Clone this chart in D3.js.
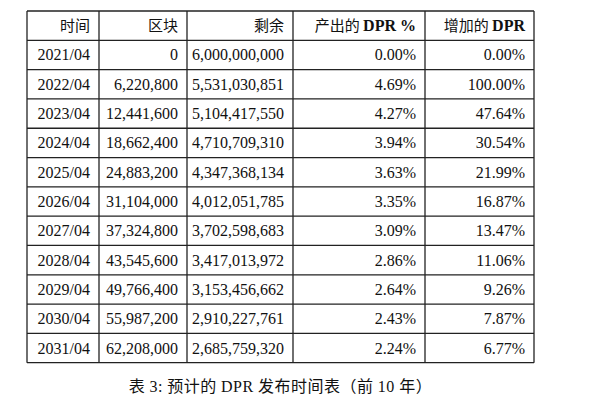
<!DOCTYPE html>
<html>
  <head>
    <meta charset="utf-8">
    <script src="https://d3js.org/d3.v7.min.js"></script>
    <style>
      body { margin: 0; background: #fff; }
      text { font-family: "Liberation Serif", "DejaVu Serif", serif; font-size: 16px; fill: #111; }
      .cjk { font-family: "Noto Sans CJK SC", sans-serif; font-size: 15px; }
      .cap { font-family: "Noto Sans CJK SC", sans-serif; font-size: 16px; }
      .bold { font-weight: bold; }
    </style>
  </head>
  <body>
    <svg width="601" height="406"></svg>
    <script>
      // table data
      var times = ["2021/04", "2022/04", "2023/04", "2024/04", "2025/04", "2026/04",
                   "2027/04", "2028/04", "2029/04", "2030/04", "2031/04"];
      var blocks = [0, 6220800, 12441600, 18662400, 24883200, 31104000,
                    37324800, 43545600, 49766400, 55987200, 62208000];
      var remaining = [6000000000, 5531030851, 5104417550, 4710709310, 4347368134, 4012051785,
                       3702598683, 3417013972, 3153456662, 2910227761, 2685759320];
      var producedPct = [0.00, 4.69, 4.27, 3.94, 3.63, 3.35, 3.09, 2.86, 2.64, 2.43, 2.24];
      var addedPct = [0.00, 100.00, 47.64, 30.54, 21.99, 16.87, 13.47, 11.06, 9.26, 7.87, 6.77];
      // caption pieces: Chinese vs latin runs
      var caption = [["表 ", "cap"], ["3: ", "lat"], ["预计的 ", "cap"], ["DPR ", "lat"],
                     ["发布时间表（前 ", "cap"], ["10 ", "lat"], ["年）", "cap"]];

      var svg = d3.select("svg");
      var colEdges = [27, 99, 187, 293, 425, 534];
      var pad = 9;

      var y = d3.scaleBand()
          .domain(["header"].concat(times))
          .range([11, 362.7]);

      var fmtInt = d3.format(",");
      var fmtPct = function(v) { return v.toFixed(2) + "%"; };

      var rows = times.map(function(t, i) {
        return [t, fmtInt(blocks[i]), fmtInt(remaining[i]), fmtPct(producedPct[i]), fmtPct(addedPct[i])];
      });

      // header
      var headers = [
        [{t: "时间", c: "cjk"}],
        [{t: "区块", c: "cjk"}],
        [{t: "剩余", c: "cjk"}],
        [{t: "产出的 ", c: "cjk"}, {t: "DPR %", c: "bold"}],
        [{t: "增加的 ", c: "cjk"}, {t: "DPR", c: "bold"}]
      ];

      var hy = y("header") + y.bandwidth() / 2 + 5.5;
      headers.forEach(function(parts, j) {
        var tx = svg.append("text")
            .attr("x", colEdges[j + 1] - pad)
            .attr("y", hy)
            .attr("text-anchor", "end");
        parts.forEach(function(p) {
          tx.append("tspan").attr("class", p.c).text(p.t);
        });
      });

      var g = svg.selectAll(".row")
          .data(rows)
        .enter().append("g")
          .attr("class", "row");

      g.selectAll("text")
          .data(function(d) { return d; })
        .enter().append("text")
          .attr("x", function(d, j) { return colEdges[j + 1] - pad; })
          .attr("y", function(d, j, nodes) {
            var row = d3.select(nodes[j].parentNode).datum();
            return y(row[0]) + y.bandwidth() / 2 + 5.5;
          })
          .attr("text-anchor", "end")
          .text(function(d) { return d; });

      // grid lines
      var lines = svg.append("g")
          .attr("stroke", "#222")
          .attr("stroke-width", 1.3);

      var hLines = y.domain().map(function(d) { return y(d); }).concat([y.range()[1]]);
      lines.selectAll(".h")
          .data(hLines)
        .enter().append("line")
          .attr("x1", colEdges[0])
          .attr("x2", colEdges[colEdges.length - 1])
          .attr("y1", function(d) { return d; })
          .attr("y2", function(d) { return d; });

      lines.selectAll(".v")
          .data(colEdges)
        .enter().append("line")
          .attr("x1", function(d) { return d; })
          .attr("x2", function(d) { return d; })
          .attr("y1", y.range()[0])
          .attr("y2", y.range()[1]);

      var cap = svg.append("text")
          .attr("x", (colEdges[0] + colEdges[colEdges.length - 1]) / 2)
          .attr("y", 392)
          .attr("text-anchor", "middle")
          .style("letter-spacing", "0.5px");
      cap.selectAll("tspan")
          .data(caption)
        .enter().append("tspan")
          .attr("class", function(d) { return d[1]; })
          .attr("xml:space", "preserve")
          .style("white-space", "pre")
          .text(function(d) { return d[0]; });
    </script>
  </body>
</html>
